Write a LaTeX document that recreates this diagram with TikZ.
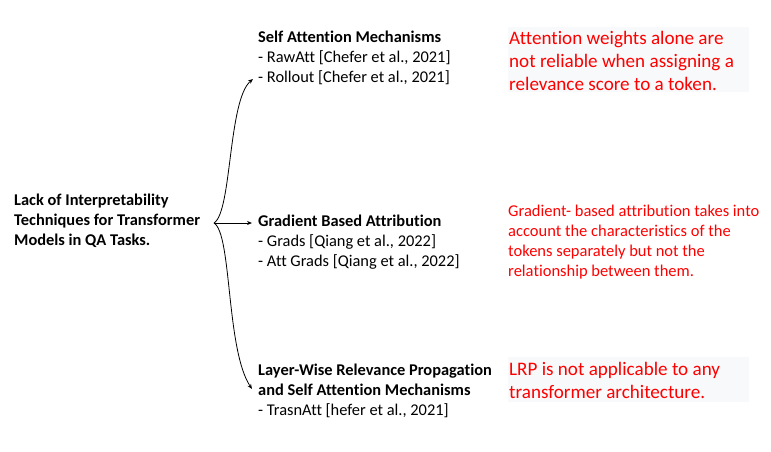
\documentclass[tikz,border=0pt]{standalone}
\usepackage{fontspec}
\setmainfont{Carlito}[Ligatures=NoCommon]
\usetikzlibrary{arrows.meta}
\definecolor{bgray}{HTML}{F8F9FA}
\definecolor{redtxt}{HTML}{FF0000}
\tikzset{
  blk/.style={anchor=base west, inner sep=0pt, align=left, font=\fontsize{16.4}{20}\selectfont},
  redbig/.style={anchor=base west, inner sep=0pt, align=left, text=redtxt, font=\fontsize{19.1}{23}\selectfont},
  redsmall/.style={anchor=base west, inner sep=0pt, align=left, text=redtxt, font=\fontsize{16.5}{20}\selectfont},
  conn/.style={line width=0.8pt, -{Stealth[length=5pt,width=4pt]}}
}
\begin{document}
\begin{tikzpicture}[x=1pt,y=-1pt]
\useasboundingbox (0,0) rectangle (771,451);
\fill[white] (0,0) rectangle (771,451);
\fill[bgray] (508,27) rectangle (749,92);
\fill[bgray] (508,357) rectangle (749,402);

\node[blk] (root) at (14,245) {\textbf{Lack of Interpretability}\\\textbf{Techniques for Transformer}\\\textbf{Models in QA Tasks.}};
\coordinate (src) at (214,223);
\coordinate (t1) at (253,79);
\coordinate (t2) at (252,223);
\coordinate (t3) at (252,389);

\node[blk] (sa) at (258,82) {\textbf{Self Attention Mechanisms}\\- RawAtt [Chefer et al., 2021]\\- Rollout [Chefer et al., 2021]};
\node[blk] (gb) at (258,266) {\textbf{Gradient Based Attribution}\\- Grads [Qiang et al., 2022]\\- Att Grads [Qiang et al., 2022]};
\node[blk] (lrp) at (258,415) {\textbf{Layer-Wise Relevance Propagation}\\\textbf{and Self Attention Mechanisms}\\- TrasnAtt [hefer et al., 2021]};

\node[redbig] (r1) at (509,90) {Attention weights alone are\\not reliable when assigning a\\relevance score to a token.};
\node[redsmall] (r2) at (508,276) {Gradient- based attribution takes into\\account the characteristics of the\\tokens separately but not the\\relationship between them.};
\node[redbig] (r3) at (509,398) {LRP is not applicable to any\\transformer architecture.};

\draw[conn] (src) .. controls (232,212) and (228,100) .. (t1);
\draw[conn] (src) -- (t2);
\draw[conn] (src) .. controls (232,234) and (226,350) .. (t3);
\end{tikzpicture}
\end{document}
